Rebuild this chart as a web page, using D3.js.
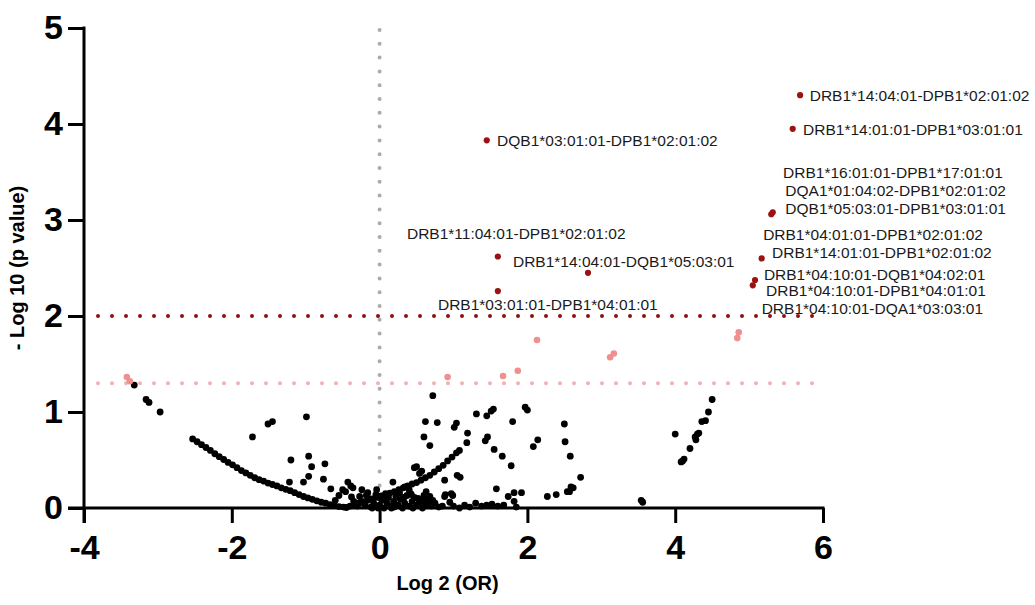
<!DOCTYPE html>
<html>
<head>
<meta charset="utf-8">
<script src="https://cdn.jsdelivr.net/npm/d3@7/dist/d3.min.js"></script>
<style>
  html, body { margin: 0; padding: 0; background: #fff; }
  svg { display: block; font-family: "Liberation Sans", Arial, sans-serif; }
</style>
</head>
<body>
<svg id="chart" width="1035" height="605"></svg>
<script>
// ---------- data ----------
const xTicks = [-4, -2, 0, 2, 4, 6];
const yTicks = [0, 1, 2, 3, 4, 5];
const xTickLabels = ["-4", "-2", "0", "2", "4", "6"];
const yTickLabels = ["0", "1", "2", "3", "4", "5"];
const xTitle = "Log 2 (OR)";
const yTitle = "- Log 10 (p value)";
const thresholdStrict = 2;     // -log10(0.01)
const thresholdLoose = 1.3;    // -log10(0.05)

// significant (p < 0.01) haplotypes: [log2 OR, -log10 p]
const sigPoints = [
  [5.69, 4.30], [5.59, 3.95], [5.32, 3.08], [5.30, 3.06], [5.17, 2.60],
  [5.08, 2.375], [5.05, 2.32], [1.45, 3.83], [1.60, 2.62], [2.82, 2.45], [1.60, 2.26]
];

// nominal (0.01 < p < 0.05)
const nominalPoints = [
  [-3.42, 1.365], [-3.38, 1.32], [0.92, 1.365], [1.67, 1.375], [1.87, 1.43],
  [2.13, 1.75], [3.12, 1.57], [3.17, 1.61], [4.84, 1.77], [4.86, 1.83]
];

// not significant
const nsPoints = [
  // left tail
  [-3.32, 1.28], [-3.16, 1.13], [-3.12, 1.10], [-2.97, 1.0],
  // left branch
  [-2.53, 0.72], [-2.47, 0.69], [-2.41, 0.66], [-2.35, 0.63], [-2.29, 0.60], [-2.23, 0.565],
  [-2.17, 0.535], [-2.11, 0.505], [-2.05, 0.475], [-1.99, 0.45], [-1.93, 0.42], [-1.87, 0.39],
  [-1.81, 0.365], [-1.75, 0.34], [-1.69, 0.315], [-1.63, 0.295], [-1.57, 0.28], [-1.51, 0.26],
  [-1.45, 0.245], [-1.39, 0.23], [-1.33, 0.21], [-1.27, 0.195], [-1.21, 0.18], [-1.15, 0.16],
  [-1.09, 0.14], [-1.03, 0.12], [-0.97, 0.105], [-0.91, 0.09], [-0.85, 0.075], [-0.79, 0.06],
  [-0.73, 0.05], [-0.67, 0.035], [-0.61, 0.025], [-0.55, 0.015], [-0.49, 0.01], [-0.45, 0.005],
  // right branch
  [-0.40, 0.02], [-0.34, 0.035], [-0.28, 0.05], [-0.22, 0.065], [-0.16, 0.08], [-0.10, 0.095],
  [-0.04, 0.11], [0.02, 0.125], [0.08, 0.14], [0.14, 0.155], [0.20, 0.17], [0.26, 0.19],
  [0.32, 0.21], [0.38, 0.23], [0.44, 0.25], [0.50, 0.265], [0.56, 0.29], [0.62, 0.315],
  [0.68, 0.34], [0.74, 0.375], [0.80, 0.41], [0.86, 0.445], [0.92, 0.49], [0.98, 0.53],
  [1.04, 0.575], [1.08, 0.60],
  // scatter left of 0
  [-1.72, 0.74], [-1.51, 0.875], [-1.45, 0.90], [-0.99, 0.95], [-1.20, 0.50], [-0.96, 0.54],
  [-0.92, 0.43], [-0.74, 0.46], [-0.96, 0.33], [-1.03, 0.27], [-1.22, 0.27], [-0.76, 0.30],
  [-0.66, 0.20], [-0.43, 0.27], [-0.39, 0.23], [-0.36, 0.21], [-0.55, 0.13], [-0.46, 0.17],
  [-0.24, 0.19], [-0.38, 0.115], [-0.04, 0.19], [-0.50, 0.19],
  // base cluster
  [-0.30, 0.02], [-0.25, 0.06], [-0.20, 0.03], [-0.15, 0.10], [-0.12, 0.01], [-0.08, 0.05],
  [-0.05, 0.14], [0.00, 0.03], [0.03, 0.08], [0.06, 0.00], [0.10, 0.05], [0.12, 0.11],
  [0.15, 0.02], [0.19, 0.07], [0.22, 0.12], [0.25, 0.03], [0.28, 0.09], [0.31, 0.00],
  [0.34, 0.05], [0.37, 0.13], [0.40, 0.02], [0.44, 0.07], [0.47, 0.11], [0.50, 0.03],
  [0.54, 0.06], [0.58, 0.00], [0.62, 0.04], [0.66, 0.09], [0.70, 0.02], [0.75, 0.05],
  [0.80, 0.01], [-0.02, 0.00], [0.08, 0.15], [0.27, 0.16], [-0.18, 0.13], [0.45, 0.00], [0.16, 0.00],
  [-0.35, 0.07], [-0.27, 0.12], [-0.10, 0.00], [0.05, 0.10], [0.20, 0.01], [0.33, 0.11],
  [0.42, 0.15], [0.52, 0.10], [0.60, 0.13], [0.72, 0.08], [-0.60, 0.08], [-0.16, 0.16],
  // scatter right of 0
  [0.18, 0.27], [0.47, 0.42], [0.54, 0.36], [0.34, 0.22], [0.40, 0.19], [0.43, 0.14],
  [0.63, 0.17], [0.68, 0.12], [0.88, 0.29], [0.88, 0.12], [0.99, 0.13], [1.05, 0.34], [1.09, 0.32],
  [0.72, 1.17], [0.62, 0.90], [0.78, 0.89], [0.60, 0.74], [0.68, 0.65], [1.01, 0.84], [1.04, 0.885],
  [1.19, 0.78], [1.18, 0.68], [1.31, 0.98], [1.45, 0.96], [1.51, 1.01], [1.54, 1.03],
  [1.43, 0.70], [1.46, 0.74], [1.55, 0.61], [1.66, 0.54], [1.78, 0.44], [1.80, 0.90],
  [1.97, 1.05], [2.00, 1.02], [2.14, 0.71], [2.08, 0.64], [2.50, 0.875], [2.51, 0.69],
  [2.58, 0.54], [2.72, 0.32], [2.59, 0.22], [2.62, 0.21], [2.54, 0.17], [2.57, 0.17],
  [2.39, 0.14], [2.27, 0.12], [1.58, 0.20], [1.74, 0.12], [1.82, 0.16], [1.92, 0.16],
  [0.89, 0.14], [0.97, 0.15], [0.50, 0.43], [0.57, 0.385],
  // near-zero row
  [0.68, 0.05], [0.85, 0.02], [0.95, 0.06], [1.08, 0.00], [1.15, 0.03], [1.22, 0.01],
  [1.30, 0.05], [1.38, 0.02], [1.45, 0.03], [1.52, 0.04], [1.60, 0.02], [1.68, 0.03],
  [1.82, 0.07], [1.85, 0.01], [1.00, 0.02], [0.58, 0.08],
  // right cluster
  [3.54, 0.08], [3.56, 0.06], [4.00, 0.77], [4.50, 1.13], [4.45, 1.00], [4.36, 0.90],
  [4.41, 0.91], [4.27, 0.74], [4.30, 0.77], [4.32, 0.78], [4.28, 0.71], [4.20, 0.62],
  [4.08, 0.48], [4.12, 0.51], [4.10, 0.49]
];

// haplotype labels and their anchor (data units: left edge, vertical centre)
const labelTexts = [
  "DQB1*03:01:01-DPB1*02:01:02",
  "DRB1*11:04:01-DPB1*02:01:02",
  "DRB1*14:04:01-DQB1*05:03:01",
  "DRB1*03:01:01-DPB1*04:01:01",
  "DRB1*14:04:01-DPB1*02:01:02",
  "DRB1*14:01:01-DPB1*03:01:01",
  "DRB1*16:01:01-DPB1*17:01:01",
  "DQA1*01:04:02-DPB1*02:01:02",
  "DQB1*05:03:01-DPB1*03:01:01",
  "DRB1*04:01:01-DPB1*02:01:02",
  "DRB1*14:01:01-DPB1*02:01:02",
  "DRB1*04:10:01-DQB1*04:02:01",
  "DRB1*04:10:01-DPB1*04:01:01",
  "DRB1*04:10:01-DQA1*03:03:01"
];
const labelAnchors = [
  [1.59, 3.83], [0.37, 2.865], [1.805, 2.57], [0.79, 2.125],
  [5.82, 4.30], [5.73, 3.94], [5.46, 3.50], [5.49, 3.31], [5.49, 3.125],
  [5.19, 2.845], [5.31, 2.66], [5.20, 2.43], [5.23, 2.27], [5.17, 2.08]
];

// ---------- drawing ----------
const svg = d3.select("#chart");
const x = d3.scaleLinear().domain([-4, 6]).range([84, 823]);
const y = d3.scaleLinear().domain([0, 5]).range([508, 28]);

const colSig = "#9a1212";
const colNom = "#ef8f8f";

// threshold / reference dotted lines
svg.append("line")
  .attr("x1", x(0)).attr("x2", x(0)).attr("y1", y(5) + 2).attr("y2", y(0))
  .attr("stroke", "#ababab").attr("stroke-width", 4).attr("stroke-linecap", "round")
  .attr("stroke-dasharray", "0 13.8");
svg.append("line")
  .attr("x1", x(-4) + 14).attr("x2", x(6)).attr("y1", y(thresholdStrict)).attr("y2", y(thresholdStrict))
  .attr("stroke", "#8e1010").attr("stroke-width", 4).attr("stroke-linecap", "round")
  .attr("stroke-dasharray", "0 14");
svg.append("line")
  .attr("x1", x(-4) + 14).attr("x2", x(6)).attr("y1", y(thresholdLoose)).attr("y2", y(thresholdLoose))
  .attr("stroke", "#f3b0b0").attr("stroke-width", 4).attr("stroke-linecap", "round")
  .attr("stroke-dasharray", "0 14");

// points
svg.append("g").selectAll("circle").data(nsPoints).join("circle")
  .attr("cx", d => x(d[0])).attr("cy", d => y(d[1])).attr("r", 3.4).attr("fill", "#000");
svg.append("g").selectAll("circle").data(nominalPoints).join("circle")
  .attr("cx", d => x(d[0])).attr("cy", d => y(d[1])).attr("r", 3.3).attr("fill", colNom);
svg.append("g").selectAll("circle").data(sigPoints).join("circle")
  .attr("cx", d => x(d[0])).attr("cy", d => y(d[1])).attr("r", 3.1).attr("fill", colSig);

// labels
svg.append("g").selectAll("text").data(labelTexts).join("text")
  .attr("x", (d, i) => x(labelAnchors[i][0]))
  .attr("y", (d, i) => y(labelAnchors[i][1]))
  .attr("dy", "0.36em")
  .attr("font-size", 15.5)
  .attr("fill", "#1a1a1a")
  .text(d => d);

// axes
const xAxis = d3.axisBottom(x).tickValues(xTicks).tickSize(15).tickPadding(12).tickSizeOuter(0)
  .tickFormat((d, i) => xTickLabels[i]);
const yAxis = d3.axisLeft(y).tickValues(yTicks).tickSize(16).tickPadding(5).tickSizeOuter(0)
  .tickFormat((d, i) => yTickLabels[i]);

const gx = svg.append("g").attr("transform", `translate(0,${y(0)})`).call(xAxis);
const gy = svg.append("g").attr("transform", `translate(${x(-4)},0)`).call(yAxis);
[gx, gy].forEach(g => {
  g.select(".domain").remove();
  g.selectAll(".tick line").attr("stroke", "#000").attr("stroke-width", 3);
  g.selectAll(".tick text").attr("fill", "#000").attr("font-size", 34).attr("font-weight", "bold")
    .attr("font-family", "'Liberation Sans', Arial, sans-serif");
});
// axis lines extended past the origin
svg.append("line").attr("x1", x(-4) - 16).attr("x2", x(6) + 1.5).attr("y1", y(0)).attr("y2", y(0))
  .attr("stroke", "#000").attr("stroke-width", 3);
svg.append("line").attr("x1", x(-4)).attr("x2", x(-4)).attr("y1", y(5) - 1.5).attr("y2", y(0) + 15)
  .attr("stroke", "#000").attr("stroke-width", 3);

// axis titles
svg.append("text")
  .attr("x", (x(-4) + x(6)) / 2 - 6).attr("y", 590)
  .attr("text-anchor", "middle").attr("font-size", 20).attr("font-weight", "bold")
  .text(xTitle);
svg.append("text")
  .attr("transform", `translate(24,${(y(0) + y(5)) / 2}) rotate(-90)`)
  .attr("text-anchor", "middle").attr("font-size", 20).attr("font-weight", "bold")
  .text(yTitle);
</script>
</body>
</html>
